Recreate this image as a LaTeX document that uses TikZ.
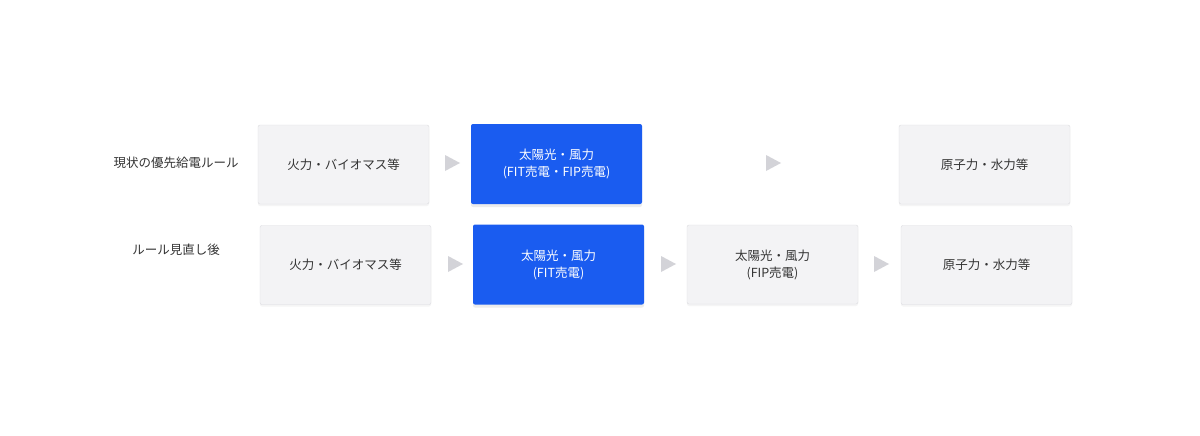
\documentclass[tikz,border=0pt]{standalone}
\usepackage{fontspec}
\setmainfont{Noto Sans CJK JP}
\usetikzlibrary{shadows,calc}
\definecolor{bluebox}{HTML}{1A5CF0}
\definecolor{graybox}{HTML}{F3F3F5}
\definecolor{grayline}{HTML}{DCDCE0}
\definecolor{arrowc}{HTML}{D3D3D8}
\definecolor{txt}{HTML}{333333}
\begin{document}
\begin{tikzpicture}[x=1pt,y=-1pt,
  gbox/.style={draw=grayline,fill=graybox,rounded corners=2pt,minimum width=171pt,minimum height=79pt,text=txt,font=\fontsize{12.5}{17}\selectfont,align=center,inner sep=0pt,drop shadow={opacity=0.08,shadow xshift=0pt,shadow yshift=-2pt}},
  bbox/.style={fill=bluebox,rounded corners=2pt,minimum width=171pt,minimum height=80pt,text=white,font=\fontsize{12.5}{17}\selectfont,align=center,inner sep=0pt,drop shadow={opacity=0.15,shadow xshift=0pt,shadow yshift=-3pt}},
  lab/.style={text=txt,font=\fontsize{12.5}{17}\selectfont}]
\useasboundingbox (0,0) rectangle (1200,436);
\fill[white] (0,0) rectangle (1200,436);
\node[lab] (l1) at (176,163) {現状の優先給電ルール};
\node[lab] (l2) at (176,250) {ルール見直し後};
\node[gbox] (a1) at (343.5,164.5) {火力・バイオマス等};
\node[bbox] (a2) at (556.5,164) {太陽光・風力\\(FIT売電・FIP売電)};
\node[gbox] (a4) at (984.5,164.5) {原子力・水力等};
\node[gbox] (b1) at (345.5,265) {火力・バイオマス等};
\node[bbox] (b2) at (558.5,264.5) {太陽光・風力\\(FIT売電)};
\node[gbox] (b3) at (772.5,264.5) {太陽光・風力\\(FIP売電)};
\node[gbox] (b4) at (986.5,265) {原子力・水力等};
\foreach \n/\x/\y in {t1/452/163,t2/773/163,t3/455/264,t4/668/264,t5/881/264}{
  \coordinate (\n) at (\x,\y);
  \fill[arrowc] ($(\n)+(-7,-8)$) -- ($(\n)+(8,0)$) -- ($(\n)+(-7,8)$) -- cycle;
}
\end{tikzpicture}
\end{document}
